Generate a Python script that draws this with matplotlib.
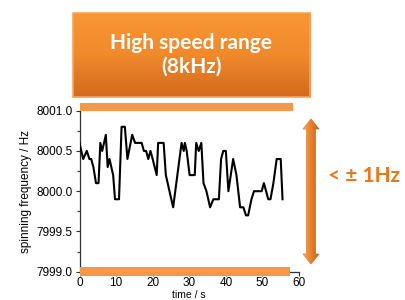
import numpy as np
import matplotlib
matplotlib.use("Agg")
import matplotlib.pyplot as plt
from matplotlib.patches import Rectangle, Polygon
from matplotlib.colors import LinearSegmentedColormap

# ── 数据 ──────────────────────────────────────────────
time_s = [0.0, 1.0, 2.0, 2.7, 3.2, 3.8, 4.5, 5.2, 5.7, 6.2, 7.2, 7.7, 8.2,
          9.2, 9.7, 10.8, 11.5, 12.4, 13.1, 14.4, 15.2, 17.0, 17.6, 18.2,
          18.8, 19.4, 20.0, 21.1, 21.5, 23.0, 23.6, 25.6, 27.9, 28.5, 28.8,
          29.3, 30.1, 31.5, 31.9, 32.6, 33.3, 33.9, 34.7, 35.7, 36.6, 38.1,
          38.7, 39.3, 40.0, 40.7, 42.0, 42.9, 43.9, 44.8, 45.5, 46.1, 47.0,
          47.7, 49.8, 50.4, 51.0, 51.6, 52.2, 53.0, 53.9, 54.3, 55.0, 55.5]
freq_hz = [8000.6, 8000.4, 8000.5, 8000.4, 8000.4, 8000.3, 8000.1, 8000.1,
           8000.6, 8000.5, 8000.7, 8000.3, 8000.4, 8000.2, 7999.9, 7999.9,
           8000.8, 8000.8, 8000.4, 8000.7, 8000.6, 8000.6, 8000.5, 8000.5,
           8000.4, 8000.5, 8000.4, 8000.2, 8000.6, 8000.6, 8000.2, 7999.8,
           8000.6, 8000.5, 8000.6, 8000.5, 8000.2, 8000.2, 8000.6, 8000.5,
           8000.6, 8000.1, 8000.0, 7999.8, 7999.9, 7999.9, 8000.4, 8000.5,
           8000.5, 8000.0, 8000.4, 8000.2, 7999.8, 7999.8, 7999.7, 7999.7,
           7999.9, 8000.0, 8000.0, 8000.1, 8000.0, 7999.9, 7999.9, 8000.1,
           8000.4, 8000.4, 8000.4, 7999.9]

x_ticks = [0, 10, 20, 30, 40, 50, 60]
y_ticks = [7999.0, 7999.5, 8000.0, 8000.5, 8001.0]
title_text = "High speed range\n(8kHz)"
range_text = "< ± 1Hz"

ORANGE = "#F79646"
TEXT_ORANGE = "#E8781E"

plt.rcParams["font.family"] = ["Liberation Sans", "DejaVu Sans"]

fig = plt.figure(figsize=(4.05, 3.0), dpi=100)
W, H = 405, 300

# ── 主图 ──────────────────────────────────────────────
ax = fig.add_axes([79.5 / W, 1 - 271.7 / H, 219.5 / W, 161.0 / H])
ax.plot(time_s, freq_hz, color="black", lw=1.5, zorder=3)
ax.set_xlim(0, 60)
ax.set_ylim(7999.0, 8001.0)
ax.set_xticks(x_ticks)
ax.set_yticks(y_ticks)
ax.set_yticklabels([f"{v:.1f}" for v in y_ticks])
ax.set_yticks(np.arange(7999.0, 8001.01, 0.25), minor=True)
ax.tick_params(labelsize=8.5, direction="out", length=3, width=0.8,
               colors="#333333", pad=2)
ax.tick_params(axis="x", pad=1)
ax.tick_params(which="minor", length=2, width=0.8, colors="#333333")
ax.tick_params(axis="both", labelcolor="black")
for side in ["top", "right"]:
    ax.spines[side].set_visible(False)
for side in ["left", "bottom"]:
    ax.spines[side].set_linewidth(0.9)
    ax.spines[side].set_color("#333333")
ax.set_xlabel("time / s", fontsize=7.5, labelpad=0.5)
ax.set_ylabel("spinning frequency / Hz", fontsize=8.5, labelpad=3)

# 橙色上下界线条
ax.add_patch(Rectangle((0, 8001.0), 58.3, 0.096, color=ORANGE,
                       clip_on=False, zorder=6, lw=0))
ax.add_patch(Rectangle((0, 7998.947), 57.5, 0.111, color=ORANGE,
                       clip_on=False, zorder=6, lw=0))

# ── 标题框 ────────────────────────────────────────────
box_cmap = LinearSegmentedColormap.from_list("box", ["#D2691D", "#F08A2C", "#F99634"])
ax_box = fig.add_axes([72.7 / W, 1 - 97.3 / H, 237.3 / W, 84.6 / H])
ax_box.imshow(np.linspace(0, 1, 100).reshape(-1, 1), cmap=box_cmap,
              aspect="auto", extent=[0, 1, 0, 1], origin="lower")
ax_box.set_xlim(0, 1)
ax_box.set_ylim(0, 1)
ax_box.axis("off")
ax_box.add_patch(Rectangle((0, 0), 1, 1, fill=False, ec="#F6A45E", lw=1.2,
                           transform=ax_box.transAxes, clip_on=False))
ax_box.text(0.5, 0.5, title_text, ha="center", va="center", color="white",
            fontsize=15, fontweight="bold", family=["Lato", "DejaVu Sans"],
            linespacing=1.25)

# ── 双向箭头 + 文本 ───────────────────────────────────
ov = fig.add_axes([0, 0, 1, 1], zorder=10)
ov.set_xlim(0, W)
ov.set_ylim(H, 0)
ov.axis("off")
ov.patch.set_alpha(0)

ax_x, y_top, y_bot = 311, 119, 264
shaft, head_w, head_l = 4.5, 8, 10
arrow_pts = [
    (ax_x, y_top), (ax_x + head_w, y_top + head_l), (ax_x + shaft, y_top + head_l),
    (ax_x + shaft, y_bot - head_l), (ax_x + head_w, y_bot - head_l), (ax_x, y_bot),
    (ax_x - head_w, y_bot - head_l), (ax_x - shaft, y_bot - head_l),
    (ax_x - shaft, y_top + head_l), (ax_x - head_w, y_top + head_l),
]
arrow = Polygon(arrow_pts, closed=True, fc="none", ec="#D0691E", lw=0.5)
ov.add_patch(arrow)
arr_cmap = LinearSegmentedColormap.from_list("arr", ["#F6A458", "#E8802A", "#C4621A"])
im = ov.imshow(np.linspace(0, 1, 50).reshape(1, -1), cmap=arr_cmap, aspect="auto",
               extent=[ax_x - head_w, ax_x + head_w, y_bot, y_top], zorder=1)
im.set_clip_path(arrow)
ov.set_xlim(0, W)
ov.set_ylim(H, 0)

ov.text(364, 176, range_text, ha="center", va="center", color=TEXT_ORANGE,
        fontsize=15, fontweight="bold", family=["Lato", "DejaVu Sans"])

fig.savefig("out.png", dpi=100)
